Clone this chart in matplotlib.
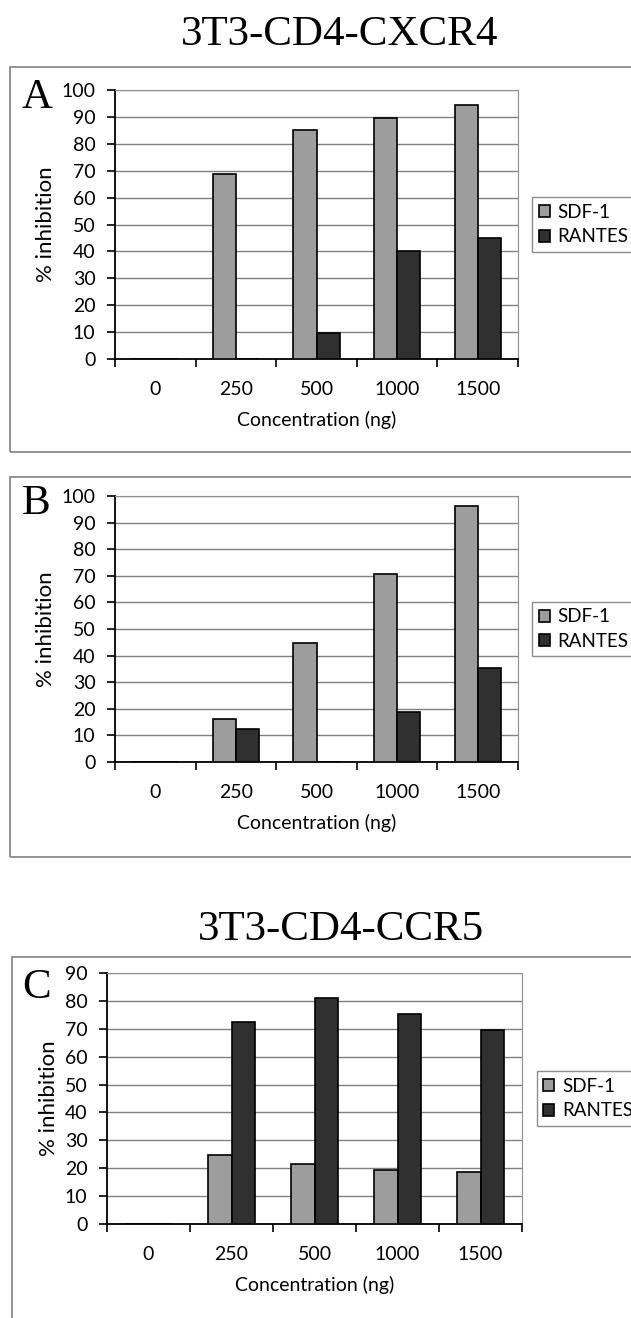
import numpy as np
import matplotlib.pyplot as plt
from matplotlib.patches import Rectangle

# values
concentrations = ['0', '250', '500', '1000', '1500']
sdf1_a = [0, 68.6, 85.2, 89.5, 94.6]
rantes_a = [0, 0, 9.7, 40.0, 44.9]
sdf1_b = [0, 16.0, 44.8, 70.7, 96.1]
rantes_b = [0, 12.5, 0, 18.9, 35.5]
sdf1_c = [0, 24.6, 21.5, 19.4, 18.8]
rantes_c = [0, 72.6, 81.2, 75.4, 69.5]

W, H = 631, 1318
fig = plt.figure(figsize=(W / 100, H / 100), dpi=100)
sans = ['Lato', 'DejaVu Sans']
serif = ['Liberation Serif', 'DejaVu Serif']


def px_axes(left, top, right, bottom):
    return fig.add_axes([left / W, 1 - bottom / H, (right - left) / W, (bottom - top) / H])


def frame(left, top, right, bottom):
    fig.patches.append(Rectangle((left / W, 1 - bottom / H), (right - left) / W, (bottom - top) / H,
                                 transform=fig.transFigure, fill=False, edgecolor='#8a8a8a', lw=1.3))


def draw_panel(ax, sdf, rantes, ymax):
    x = np.arange(len(concentrations))
    w = 1 / 3.5  # excel gap width 150%
    ax.bar(x - w / 2, sdf, w, color='#9d9d9d', edgecolor='black', lw=1.2, label='SDF-1', zorder=3)
    ax.bar(x + w / 2, rantes, w, color='#303030', edgecolor='black', lw=1.2, label='RANTES', zorder=3)
    ax.set_xlim(-0.5, len(concentrations) - 0.5)
    ax.set_ylim(0, ymax)
    ax.set_yticks(range(0, ymax + 1, 10))
    ax.yaxis.grid(True, color='#808080', lw=1)
    ax.set_axisbelow(True)
    ax.set_xticks(x)
    ax.set_xticklabels(concentrations, family=sans, fontsize=14)
    ax.set_xticks(np.arange(-0.5, len(concentrations), 1), minor=True)
    ax.tick_params(axis='x', which='major', length=0, pad=16)
    ax.tick_params(axis='x', which='minor', length=6, width=1.2, direction='out')
    ax.tick_params(axis='y', length=6, width=1.2, pad=8)
    for t in ax.get_yticklabels():
        t.set_family(sans)
        t.set_fontsize(14)
    for s in ['top', 'right']:
        ax.spines[s].set_color('#909090')
    for s in ['left', 'bottom']:
        ax.spines[s].set_linewidth(1.3)
    ax.set_xlabel('Concentration (ng)', family=sans, fontsize=14, labelpad=9)
    ax.set_ylabel('% inhibition', family=sans, fontsize=16, labelpad=4)
    leg = ax.legend(loc='center left', bbox_to_anchor=(1.035, 0.5), fontsize=13.5, frameon=True,
                    fancybox=False, edgecolor='#707070', handlelength=0.6, handleheight=0.6,
                    handletextpad=0.4, borderpad=0.35, labelspacing=0.4, borderaxespad=0)
    for t in leg.get_texts():
        t.set_family(sans)
    leg.get_frame().set_linewidth(1)


fig.text(340 / W, 1 - 35 / H, '3T3-CD4-CXCR4', family=serif, fontsize=31, ha='center', va='center')
fig.text(341 / W, 1 - 930 / H, '3T3-CD4-CCR5', family=serif, fontsize=31, ha='center', va='center')

frame(10, 67, 640, 452)
frame(10, 477, 640, 857)
frame(12, 957, 640, 1330)

ax_a = px_axes(115, 90, 518, 359)
draw_panel(ax_a, sdf1_a, rantes_a, 100)
ax_b = px_axes(115, 496, 518, 762)
draw_panel(ax_b, sdf1_b, rantes_b, 100)
ax_c = px_axes(107, 973, 522, 1224)
draw_panel(ax_c, sdf1_c, rantes_c, 90)

fig.text(22 / W, 1 - 108 / H, 'A', family=serif, fontsize=31, ha='left', va='baseline')
fig.text(22 / W, 1 - 514 / H, 'B', family=serif, fontsize=31, ha='left', va='baseline')
fig.text(22 / W, 1 - 998 / H, 'C', family=serif, fontsize=31, ha='left', va='baseline')

fig.savefig('out.png', dpi=100)
